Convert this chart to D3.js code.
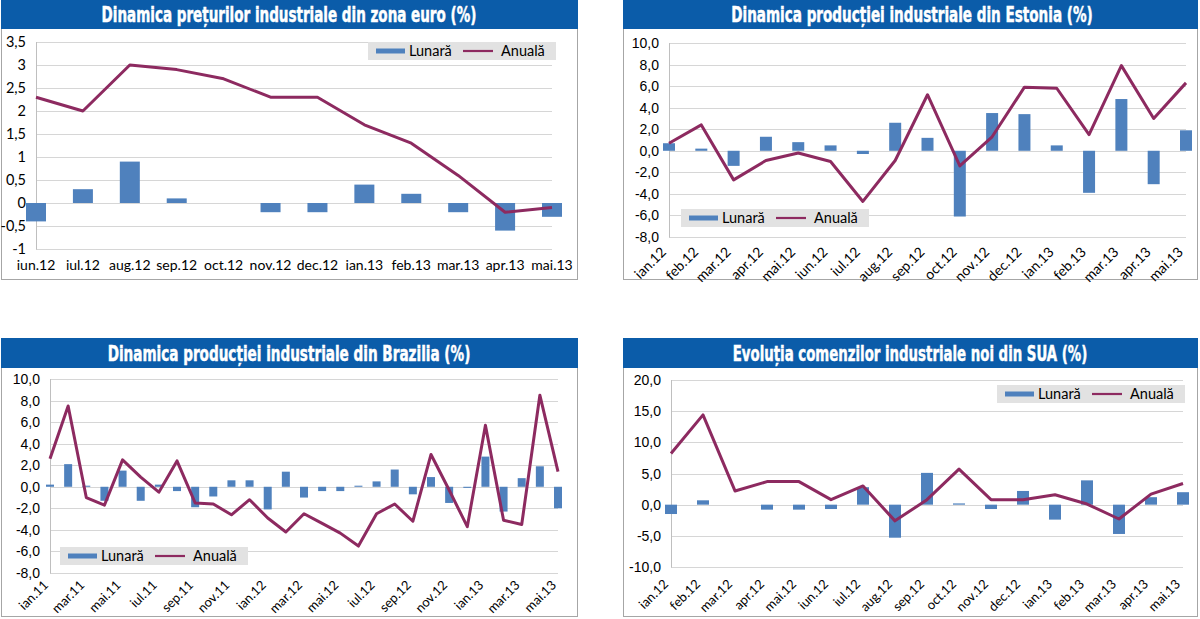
<!DOCTYPE html>
<html><head><meta charset="utf-8">
<script src="https://cdn.jsdelivr.net/npm/d3@7"></script>
<style>body{margin:0;background:#fff} svg{display:block}</style>
</head><body>
<svg id="c" width="1200" height="619"></svg>
<script>
// ---------- DATA ----------
const euroTitle = "Dinamica prețurilor industriale din zona euro (%)";
const euroCategories = ["iun.12","iul.12","aug.12","sep.12","oct.12","nov.12","dec.12","ian.13","feb.13","mar.13","apr.13","mai.13"];
const euroMonthly = [-0.4,0.3,0.9,0.1,0,-0.2,-0.2,0.4,0.2,-0.2,-0.6,-0.3];
const euroAnnual  = [2.3,2.0,3.0,2.9,2.7,2.3,2.3,1.7,1.3,0.6,-0.2,-0.1];
const euroTicks = [-1,-0.5,0,0.5,1,1.5,2,2.5,3,3.5];
const euroTickLabels = ["-1","-0,5","0","0,5","1","1,5","2","2,5","3","3,5"];

const estoniaTitle = "Dinamica producției industriale din Estonia (%)";
const estoniaCategories = ["ian.12","feb.12","mar.12","apr.12","mai.12","iun.12","iul.12","aug.12","sep.12","oct.12","nov.12","dec.12","ian.13","feb.13","mar.13","apr.13","mai.13"];
const estoniaMonthly = [0.7,0.2,-1.4,1.3,0.8,0.5,-0.3,2.6,1.2,-6.1,3.5,3.4,0.5,-3.9,4.8,-3.1,1.9];
const estoniaAnnual  = [0.7,2.4,-2.7,-0.9,-0.2,-1.0,-4.7,-0.9,5.2,-1.4,1.3,5.9,5.8,1.5,7.9,3.0,6.3];
const estoniaTicks = [-8,-6,-4,-2,0,2,4,6,8,10];
const estoniaTickLabels = ["-8,0","-6,0","-4,0","-2,0","0,0","2,0","4,0","6,0","8,0","10,0"];

const brazilTitle = "Dinamica producției industriale din Brazilia (%)";
const brazilCategories = ["ian.11","feb.11","mar.11","apr.11","mai.11","iun.11","iul.11","aug.11","sep.11","oct.11","nov.11","dec.11",
  "ian.12","feb.12","mar.12","apr.12","mai.12","iun.12","iul.12","aug.12","sep.12","oct.12","nov.12","dec.12",
  "ian.13","feb.13","mar.13","apr.13","mai.13"];
const brazilMonthly = [0.2,2.1,0.1,-1.3,1.5,-1.3,0.2,-0.4,-1.9,-0.9,0.6,0.6,-2.1,1.4,-1.0,-0.4,-0.4,0.1,0.5,1.6,-0.7,0.9,-1.5,-0.1,2.8,-2.3,0.8,1.9,-2.0];
const brazilAnnual  = [2.6,7.5,-1.0,-1.7,2.5,0.9,-0.5,2.4,-1.5,-1.6,-2.6,-1.2,-2.9,-4.2,-2.5,-3.4,-4.3,-5.5,-2.5,-1.6,-3.2,3.0,-0.3,-3.7,5.7,-3.1,-3.5,8.5,1.4];
const brazilXLabels = ["ian.11","mar.11","mai.11","iul.11","sep.11","nov.11","ian.12","mar.12","mai.12","iul.12","sep.12","nov.12","ian.13","mar.13","mai.13"];
const brazilTicks = [-8,-6,-4,-2,0,2,4,6,8,10];
const brazilTickLabels = ["-8,0","-6,0","-4,0","-2,0","0,0","2,0","4,0","6,0","8,0","10,0"];

const usaTitle = "Evoluția comenzilor industriale noi din SUA (%)";
const usaCategories = ["ian.12","feb.12","mar.12","apr.12","mai.12","iun.12","iul.12","aug.12","sep.12","oct.12","nov.12","dec.12","ian.13","feb.13","mar.13","apr.13","mai.13"];
const usaMonthly = [-1.5,0.7,0,-0.8,-0.8,-0.7,2.8,-5.3,5.1,0.2,-0.7,2.2,-2.4,3.9,-4.7,1.2,2.0];
const usaAnnual  = [8.2,14.4,2.2,3.7,3.7,0.8,3.0,-2.6,0.8,5.7,0.8,0.8,1.6,0.1,-2.3,1.7,3.4];
const usaTicks = [-10,-5,0,5,10,15,20];
const usaTickLabels = ["-10,0","-5,0","0,0","5,0","10,0","15,0","20,0"];

const seriesNames = ["Lunară","Anuală"];

// ---------- STYLE ----------
const BLUE = "#4f81bd", LINE = "#8d2a60", HEAD = "#0b5ca9", GRID = "#d6d6d6";
const svg = d3.select("#c");

function drawPanel(o) {
  const g = svg.append("g");
  // frame
  g.append("rect").attr("x", o.box[0]+0.5).attr("y", o.box[1]+0.5).attr("width", o.box[2]).attr("height", o.box[3])
    .attr("fill", "#fff").attr("stroke", "#a6a6a6");
  g.append("rect").attr("x", o.box[0]).attr("y", o.box[1]).attr("width", o.box[2]+1).attr("height", o.headH)
    .attr("fill", HEAD);
  // title: condensed by horizontal scaling to match the reference width
  const cx = o.box[0] + o.box[2]/2 + (o.titleDx||0);
  const tg = g.append("g").attr("transform", `translate(${cx},${o.box[1] + o.titleBase})`);
  const tt = tg.append("text").attr("x", 0).attr("y", 0)
    .attr("text-anchor", "middle").attr("fill", "#fff")
    .attr("stroke", "#fff").attr("stroke-width", 0.5)
    .attr("font-family", "'Liberation Sans Narrow','DejaVu Sans Condensed',sans-serif")
    .attr("font-weight", "bold").attr("font-size", 21)
    .text(o.title);
  const nat = tt.node().getComputedTextLength();
  tg.attr("transform", `translate(${cx},${o.box[1] + o.titleBase}) scale(${o.titleW/nat},1)`);

  const x = d3.scalePoint().domain(o.categories).range([o.plot.left, o.plot.right]);
  const y = d3.scaleLinear().domain(o.domain).range([o.plot.bottom, o.plot.top]);

  // gridlines
  g.selectAll(".grid").data(o.ticks).enter().append("line")
    .attr("x1", o.plot.left).attr("x2", o.plot.right)
    .attr("y1", d => Math.round(y(d))+0.5).attr("y2", d => Math.round(y(d))+0.5)
    .attr("stroke", GRID).attr("stroke-width", 1);
  g.append("line").attr("x1", o.plot.left+0.5).attr("x2", o.plot.left+0.5)
    .attr("y1", o.plot.top).attr("y2", o.plot.bottom+0.5).attr("stroke", "#bfbfbf");

  // y tick labels
  g.selectAll(".yl").data(o.ticks).enter().append("text")
    .attr("x", o.yLabelX).attr("y", d => y(d)).attr("dy", "0.36em")
    .attr("text-anchor", "end").attr("fill", "#000")
    .attr("font-family", o.yFont).attr("font-size", o.yFontSize)
    .text((d,i) => o.tickLabels[i]);

  // x labels
  const xl = o.xLabels || o.categories;
  if (o.rotate) {
    g.selectAll(".xl").data(xl).enter().append("text")
      .attr("transform", d => `translate(${x(d)+o.xlDx},${o.plot.bottom+o.xlDy}) rotate(-45)`)
      .attr("text-anchor", "end").attr("fill", "#000")
      .attr("font-family", "Lato, 'Open Sans', sans-serif").attr("font-size", o.xFontSize)
      .text(d => d);
  } else {
    g.selectAll(".xl").data(xl).enter().append("text")
      .attr("x", d => x(d)).attr("y", o.plot.bottom + o.xlDy)
      .attr("text-anchor", "middle").attr("fill", "#000")
      .attr("font-family", "Lato, 'Open Sans', sans-serif").attr("font-size", o.xFontSize)
      .text(d => d);
  }

  // legend
  const L = o.legend;
  g.append("rect").attr("x", L[0]).attr("y", L[1]).attr("width", 188).attr("height", 18).attr("fill", "#e2e2e2");
  const my = L[1] + 9;
  g.append("rect").attr("x", L[0]+8).attr("y", my-2.5).attr("width", 29).attr("height", 5).attr("fill", BLUE);
  g.append("text").attr("x", L[0]+41).attr("y", my).attr("dy", "0.36em")
    .attr("font-family", "Lato, 'Open Sans', sans-serif").attr("font-size", 14.5).text(seriesNames[0]);
  g.append("line").attr("x1", L[0]+95).attr("x2", L[0]+125).attr("y1", my).attr("y2", my)
    .attr("stroke", LINE).attr("stroke-width", 2.2);
  g.append("text").attr("x", L[0]+133).attr("y", my).attr("dy", "0.36em")
    .attr("font-family", "Lato, 'Open Sans', sans-serif").attr("font-size", 14.5).text(seriesNames[1]);

  // bars
  g.selectAll(".bar").data(o.monthly).enter().append("rect")
    .attr("x", (d,i) => x(o.categories[i]) - o.barW/2)
    .attr("width", o.barW)
    .attr("y", d => y(Math.max(0,d)))
    .attr("height", d => Math.abs(y(d) - y(0)))
    .attr("fill", BLUE);

  // line
  const line = d3.line().x((d,i) => x(o.categories[i])).y(d => y(d));
  g.append("path").datum(o.annual).attr("d", line)
    .attr("fill", "none").attr("stroke", LINE).attr("stroke-width", 3)
    .attr("stroke-linejoin", "round");
}

drawPanel({
  box:[1,0,576,279], headH:29, titleBase:22, title:euroTitle, titleW:375,
  categories:euroCategories, monthly:euroMonthly, annual:euroAnnual,
  ticks:euroTicks, tickLabels:euroTickLabels, domain:[-1,3.5],
  plot:{left:36,right:552,top:42,bottom:249},
  yLabelX:26, yFont:"Lato, sans-serif", yFontSize:14.5,
  rotate:false, xlDy:21, xFontSize:14, barW:20, legend:[368,42]
});
drawPanel({
  box:[623,0,574,279], headH:29, titleBase:22, title:estoniaTitle, titleW:362, titleDx:2,
  categories:estoniaCategories, monthly:estoniaMonthly, annual:estoniaAnnual,
  ticks:estoniaTicks, tickLabels:estoniaTickLabels, domain:[-8,10],
  plot:{left:669,right:1186,top:43,bottom:237},
  yLabelX:659, yFont:"'Liberation Sans Narrow', sans-serif", yFontSize:14,
  rotate:true, xlDx:-2, xlDy:16, xFontSize:14, barW:12, legend:[681,209]
});
drawPanel({
  box:[1,338,576,278], headH:30, titleBase:23, title:brazilTitle, titleW:363,
  categories:brazilCategories, monthly:brazilMonthly, annual:brazilAnnual, xLabels:brazilXLabels,
  ticks:brazilTicks, tickLabels:brazilTickLabels, domain:[-8,10],
  plot:{left:50,right:558,top:379,bottom:573},
  yLabelX:40, yFont:"'Liberation Sans Narrow', sans-serif", yFontSize:14,
  rotate:true, xlDx:-1, xlDy:13, xFontSize:13, barW:8, legend:[60,547]
});
drawPanel({
  box:[623,338,574,278], headH:30, titleBase:23, title:usaTitle, titleW:355,
  categories:usaCategories, monthly:usaMonthly, annual:usaAnnual,
  ticks:usaTicks, tickLabels:usaTickLabels, domain:[-10,20],
  plot:{left:671,right:1183,top:380,bottom:567},
  yLabelX:661, yFont:"'Liberation Sans Narrow', sans-serif", yFontSize:14,
  rotate:true, xlDx:-2, xlDy:18, xFontSize:13, barW:12, legend:[997,385]
});
</script>
</body></html>
